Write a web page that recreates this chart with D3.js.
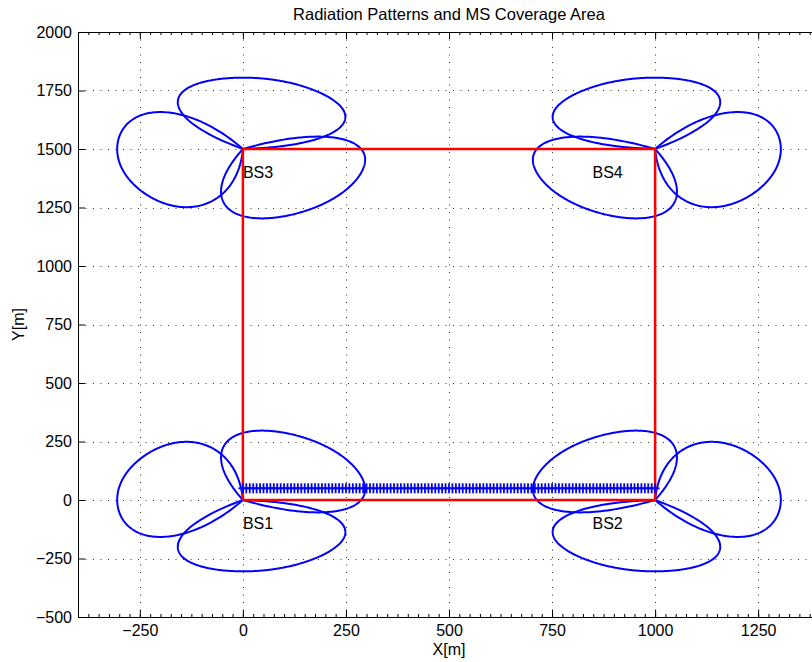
<!DOCTYPE html>
<html>
<head>
<meta charset="utf-8">
<script src="https://cdn.jsdelivr.net/npm/d3@7"></script>
<style>
  body { margin: 0; background: #fff; }
  svg { display: block; font-family: "Liberation Sans", Arial, sans-serif; }
</style>
</head>
<body>
<div class="chart"></div>
<script>
// base stations and their sector boresights (deg)
const bsNames = ['BS1', 'BS2', 'BS3', 'BS4'];
const bsX = [0, 1000, 0, 1000];
const bsY = [0, 0, 1500, 1500];
const sectorAz = [[45, 165, 285], [135, 15, 255], [315, 195, 75], [225, 345, 105]];
const lobeRange = 305;     // max lobe reach [m]
const lobeEdge = 72;       // lobe closes at +-72 deg off boresight

// label anchor points
const labelX = [0, 848, 0, 848];
const labelY = [-100, -100, 1400, 1400];

// coverage rectangle
const areaX = [0, 1000, 1000, 0, 0];
const areaY = [0, 0, 1500, 1500, 0];

// MS route positions
const msX = [
  0, 8.3, 16.7, 25, 33.3, 41.7, 50, 58.3, 66.7, 75, 83.3, 91.7,
  100, 108.3, 116.7, 125, 133.3, 141.7, 150, 158.3, 166.7, 175, 183.3, 191.7,
  200, 208.3, 216.7, 225, 233.3, 241.7, 250, 258.3, 266.7, 275, 283.3, 291.7,
  300, 308.3, 316.7, 325, 333.3, 341.7, 350, 358.3, 366.7, 375, 383.3, 391.7,
  400, 408.3, 416.7, 425, 433.3, 441.7, 450, 458.3, 466.7, 475, 483.3, 491.7,
  500, 508.3, 516.7, 525, 533.3, 541.7, 550, 558.3, 566.7, 575, 583.3, 591.7,
  600, 608.3, 616.7, 625, 633.3, 641.7, 650, 658.3, 666.7, 675, 683.3, 691.7,
  700, 708.3, 716.7, 725, 733.3, 741.7, 750, 758.3, 766.7, 775, 783.3, 791.7,
  800, 808.3, 816.7, 825, 833.3, 841.7, 850, 858.3, 866.7, 875, 883.3, 891.7,
  900, 908.3, 916.7, 925, 933.3, 941.7, 950, 958.3, 966.7, 975, 983.3, 991.7,
  1000];
const msY = 50;

// ticks
const xTicks = [-250, 0, 250, 500, 750, 1000, 1250];
const yTicks = [-500, -250, 0, 250, 500, 750, 1000, 1250, 1500, 1750, 2000];

// size
const W = 812, H = 662;
const margin = {top: 32, right: -8, bottom: 45, left: 78};

const svg = d3.select('.chart').append('svg')
    .attr('width', W)
    .attr('height', H);

const x = d3.scaleLinear().domain([-400, 1400]).range([margin.left, W - margin.right]);
const y = d3.scaleLinear().domain([-500, 2000]).range([H - margin.bottom, margin.top]);

// grid
const grid = svg.append('g')
    .attr('stroke', '#333')
    .attr('stroke-width', 1)
    .attr('stroke-dasharray', '1,6.5');
grid.selectAll('.gx').data(xTicks).enter().append('line')
    .attr('x1', d => Math.round(x(d)) + 0.5).attr('x2', d => Math.round(x(d)) + 0.5)
    .attr('y1', y(2000)).attr('y2', y(-500));
grid.selectAll('.gy').data(yTicks).enter().append('line')
    .attr('y1', d => Math.round(y(d)) + 0.5).attr('y2', d => Math.round(y(d)) + 0.5)
    .attr('x1', x(-400)).attr('x2', x(1400));

// minor ticks (x only)
const xMinor = d3.range(-400, 1401, 25);
const minorX = g => g.call(g => g.select('.domain').remove()).call(g => g.selectAll('text').remove());
svg.append('g').attr('transform', `translate(0,${y(-500)})`)
    .call(d3.axisBottom(x).tickValues(xMinor).tickSize(-3).tickFormat('')).call(minorX);
svg.append('g').attr('transform', `translate(0,${y(2000)})`)
    .call(d3.axisTop(x).tickValues(xMinor).tickSize(-3).tickFormat('')).call(minorX);

// major axes
const fmt = d3.format('d');
svg.append('g').attr('transform', `translate(0,${y(-500)})`)
    .call(d3.axisBottom(x).tickValues(xTicks).tickSize(-7).tickSizeOuter(0).tickPadding(8).tickFormat(fmt));
svg.append('g').attr('transform', `translate(0,${y(2000)})`)
    .call(d3.axisTop(x).tickValues(xTicks).tickSize(-7).tickSizeOuter(0).tickFormat(''));
svg.append('g').attr('transform', `translate(${x(-400)},0)`)
    .call(d3.axisLeft(y).tickValues(yTicks).tickSize(-7).tickSizeOuter(0).tickPadding(6).tickFormat(fmt));
svg.append('g').attr('transform', `translate(${x(1400)},0)`)
    .call(d3.axisRight(y).tickValues(yTicks).tickSize(-7).tickSizeOuter(0).tickFormat(''));

svg.selectAll('.tick text')
    .attr('font-size', 16)
    .attr('font-family', '"Liberation Sans", Arial, sans-serif')
    .attr('fill', '#000');
svg.selectAll('.domain').attr('stroke', '#000');
svg.selectAll('.tick line').attr('stroke', '#000');

// radiation lobes
const alpha = d3.range(-lobeEdge, lobeEdge + 0.01, 0.5);
const lobeLine = d3.line().x(d => x(d[0])).y(d => y(d[1]));
bsNames.forEach((name, i) => {
    sectorAz[i].forEach(az => {
        const pts = alpha.map(a => {
            const r = lobeRange * (1 - Math.pow(Math.abs(a) / lobeEdge, 6));
            const t = (az + a) * Math.PI / 180;
            return [bsX[i] + r * Math.cos(t), bsY[i] + r * Math.sin(t)];
        });
        svg.append('path')
            .attr('d', lobeLine(pts))
            .attr('fill', 'none')
            .attr('stroke', '#0000ff')
            .attr('stroke-width', 2);
    });
});

// coverage area
svg.append('path')
    .attr('d', d3.line().x((d, i) => x(areaX[i])).y((d, i) => y(areaY[i]))(areaX))
    .attr('fill', 'none')
    .attr('stroke', '#ff0000')
    .attr('stroke-width', 2.5);

// MS route markers
const plus = svg.append('g').attr('stroke', '#0000ff').attr('stroke-width', 1.8);
plus.selectAll('.mh').data(msX).enter().append('line')
    .attr('x1', d => x(d) - 4.5).attr('x2', d => x(d) + 4.5)
    .attr('y1', y(msY)).attr('y2', y(msY));
plus.selectAll('.mv').data(msX).enter().append('line')
    .attr('x1', d => x(d)).attr('x2', d => x(d))
    .attr('y1', y(msY) - 5).attr('y2', y(msY) + 5);

// BS labels
svg.selectAll('.bslabel').data(bsNames).enter().append('text')
    .attr('x', (d, i) => x(labelX[i]))
    .attr('y', (d, i) => y(labelY[i]))
    .attr('dy', '0.35em')
    .attr('font-size', 16)
    .text(d => d);

// titles
svg.append('text')
    .attr('x', (x(-400) + x(1400)) / 2).attr('y', 20)
    .attr('text-anchor', 'middle').attr('font-size', 16.5)
    .text('Radiation Patterns and MS Coverage Area');
svg.append('text')
    .attr('x', (x(-400) + x(1400)) / 2).attr('y', 655)
    .attr('text-anchor', 'middle').attr('font-size', 16)
    .text('X[m]');
svg.append('text')
    .attr('transform', `translate(24,${(y(-500) + y(2000)) / 2}) rotate(-90)`)
    .attr('text-anchor', 'middle').attr('font-size', 16)
    .text('Y[m]');
</script>
</body>
</html>
